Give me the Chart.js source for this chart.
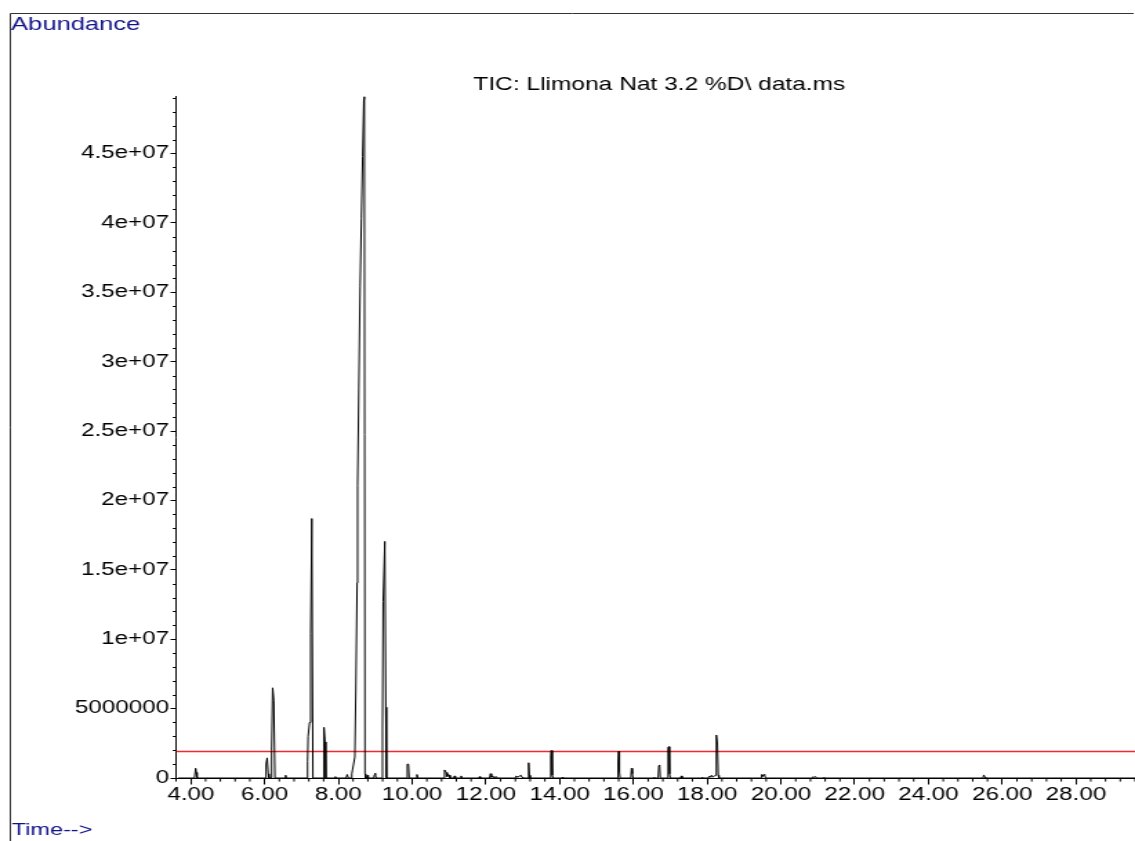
<!DOCTYPE html>
<html>
<head>
<meta charset="utf-8">
<title>TIC: Llimona Nat 3.2 %D\ data.ms</title>
<script src="https://cdn.jsdelivr.net/npm/chart.js@4.4.1/dist/chart.umd.min.js"></script>
<style>
  html, body { margin: 0; padding: 0; background: #fff; overflow: hidden; }
</style>
</head>
<body>
<!-- drawn at 822 px wide and shown at 1135 px, like the stretched original printout -->
<canvas id="tic" width="822" height="841" style="display:block;width:1135px;height:841px"></canvas>
<script>
// Retention time (min) and TIC abundance (x 1e6)
const times = [
  3.65,
  4.10, 4.13, 4.15, 4.17,
  6.02, 6.04, 6.07, 6.10, 6.12,
  6.17, 6.19, 6.22, 6.25, 6.28,
  6.55, 6.57, 6.59,
  7.14, 7.165, 7.18, 7.22, 7.25, 7.28, 7.31,
  7.59, 7.61, 7.64, 7.66,
  7.90, 7.92, 7.94,
  8.21, 8.24, 8.27,
  8.35, 8.365, 8.384, 8.447, 8.474, 8.509, 8.522, 8.555, 8.590, 8.625, 8.658, 8.690, 8.704, 8.722, 8.74,
  8.77, 8.79, 8.81,
  8.96, 8.98, 9.00, 9.02,
  9.18, 9.196, 9.214, 9.26, 9.286, 9.305,
  9.85, 9.87, 9.90, 9.92,
  10.11, 10.13, 10.16,
  10.86, 10.88, 10.92, 10.95, 10.98, 11.01, 11.03,
  11.13, 11.15, 11.17,
  11.31, 11.33, 11.35,
  11.81, 11.83, 11.85,
  12.10, 12.125, 12.15, 12.19, 12.21,
  12.24, 12.26, 12.29, 12.31,
  12.80, 12.82, 12.86, 12.95, 12.98, 13.00,
  13.14, 13.16, 13.18, 13.20,
  13.74, 13.76, 13.775, 13.80, 13.82,
  14.05, 14.07, 14.09,
  15.57, 15.585, 15.60, 15.62, 15.64,
  15.93, 15.95, 15.97, 15.99,
  16.55, 16.57, 16.59,
  16.67, 16.69, 16.71, 16.73,
  16.92, 16.94, 16.96, 16.98, 17.00,
  17.28, 17.30, 17.32,
  17.85, 17.87, 17.89,
  18.03, 18.05, 18.08, 18.12, 18.15,
  18.22, 18.24, 18.255, 18.275, 18.30, 18.32,
  19.46, 19.48, 19.50, 19.53, 19.56, 19.58,
  20.85, 20.87, 20.90, 20.94, 20.96,
  21.15, 21.17, 21.19,
  25.48, 25.50, 25.53, 25.55,
  29.60
];
const abundanceMillions = [
  0,
  0, 0.70, 0.40, 0,
  0, 1.0, 1.45, 0.3, 0,
  0, 2.0, 6.5, 5.6, 0,
  0, 0.2, 0,
  0, 1.2, 3.0, 4.0, 10.4, 18.7, 0,
  0, 3.65, 2.6, 0,
  0, 0.1, 0,
  0, 0.25, 0,
  0, 0.3, 0.58, 1.51, 6.34, 14.05, 21.1, 28.1, 35.4, 40.3, 44.8, 48.9, 53.0, 0.3, 0,
  0, 0.2, 0,
  0, 0.25, 0.35, 0,
  0, 3.6, 12.7, 17.05, 5.1, 0,
  0, 1.0, 1.0, 0,
  0, 0.25, 0,
  0, 0.58, 0.4, 0.1, 0.27, 0.2, 0,
  0, 0.15, 0,
  0, 0.15, 0,
  0, 0.1, 0,
  0, 0.31, 0.05, 0.15, 0,
  0, 0.1, 0.08, 0,
  0, 0.15, 0.05, 0.2, 0.05, 0,
  0, 1.1, 0.2, 0,
  0, 1.6, 1.98, 0.2, 0,
  0, 0.05, 0,
  0, 1.15, 1.92, 0.45, 0,
  0, 0.7, 0.3, 0,
  0, 0.05, 0,
  0, 0.9, 0.94, 0,
  0, 2.2, 2.26, 0.3, 0,
  0, 0.15, 0,
  0, 0.05, 0,
  0, 0.12, 0.05, 0.2, 0.05,
  0.2, 2.0, 3.1, 2.6, 0.2, 0,
  0, 0.25, 0.1, 0.25, 0.2, 0,
  0, 0.1, 0.05, 0.1, 0,
  0, 0.05, 0,
  0, 0.22, 0.05, 0,
  0
];

// Red threshold line
const thresholdTimes = [3.6, 29.6];
const thresholdValues = [1.91e6, 1.91e6];

// Axis ticks
const xTickValues = [4, 6, 8, 10, 12, 14, 16, 18, 20, 22, 24, 26, 28];
const xTickLabels = ['4.00', '6.00', '8.00', '10.00', '12.00', '14.00', '16.00',
  '18.00', '20.00', '22.00', '24.00', '26.00', '28.00'];
const yTickValues = [0, 5e6, 1e7, 1.5e7, 2e7, 2.5e7, 3e7, 3.5e7, 4e7, 4.5e7];
const yTickLabels = ['0', '5000000', '1e+07', '1.5e+07', '2e+07', '2.5e+07',
  '3e+07', '3.5e+07', '4e+07', '4.5e+07'];
const xMinorStep = 0.4;
const yMinorStep = 1e6;

const FONT = "'Liberation Sans', Arial, sans-serif";
const BLUE = '#12128a';

// Frame, labels, title and minor ticks
const chromDecor = {
  id: 'chromDecor',
  afterDraw(chart) {
    const ctx = chart.ctx;
    const xs = chart.scales.x;
    const ys = chart.scales.y;
    const area = chart.chartArea;
    ctx.save();

    ctx.strokeStyle = '#000';
    ctx.lineWidth = 1;
    ctx.beginPath();
    const n0 = Math.ceil(xs.min / xMinorStep - 1e-6);
    const n1 = Math.floor(xs.max / xMinorStep + 1e-6);
    for (let n = n0; n <= n1; n++) {
      if (n % 5 === 0) continue;
      const px = xs.getPixelForValue(n * xMinorStep);
      ctx.moveTo(px, area.bottom);
      ctx.lineTo(px, area.bottom + 3.6);
    }
    const m1 = Math.floor(ys.max / yMinorStep + 1e-6);
    for (let m = 1; m <= m1; m++) {
      if (m % 5 === 0) continue;
      const py = Math.round(ys.getPixelForValue(m * yMinorStep)) + 0.5;
      ctx.moveTo(area.left - 2.4, py);
      ctx.lineTo(area.left, py);
    }
    ctx.stroke();

    // outer frame
    ctx.strokeStyle = '#333';
    ctx.beginPath();
    ctx.moveTo(7.5, chart.height);
    ctx.lineTo(7.5, 13.5);
    ctx.lineTo(821, 13.5);
    ctx.stroke();

    ctx.fillStyle = BLUE;
    ctx.textBaseline = 'alphabetic';
    ctx.textAlign = 'left';
    ctx.font = '18.5px ' + FONT;
    ctx.fillText('Abundance', 8, 29.5);
    ctx.font = '17px ' + FONT;
    ctx.fillText('Time-->', 8.5, 834.5);

    ctx.fillStyle = '#000';
    ctx.textAlign = 'center';
    ctx.font = '17.75px ' + FONT;
    ctx.fillText('TIC: Llimona Nat 3.2 %D\\ data.ms', 477.5, 89.5);
    ctx.restore();
  }
};

new Chart(document.getElementById('tic'), {
  type: 'line',
  data: {
    datasets: [{
      label: 'TIC',
      data: times.map((t, i) => ({ x: t, y: abundanceMillions[i] * 1e6 })),
      borderColor: '#000',
      borderWidth: 1,
      borderJoinStyle: 'bevel',
      pointRadius: 0,
      tension: 0
    }, {
      label: 'threshold',
      data: thresholdTimes.map((t, i) => ({ x: t, y: thresholdValues[i] })),
      borderColor: '#f02a30',
      borderWidth: 1.5,
      pointRadius: 0
    }]
  },
  options: {
    responsive: false,
    devicePixelRatio: 1,
    animation: false,
    events: [],
    layout: { padding: { top: 96.7, right: 0, bottom: 0, left: 0 } },
    plugins: {
      legend: { display: false },
      tooltip: { enabled: false },
      title: { display: false }
    },
    scales: {
      x: {
        type: 'linear',
        min: 3.6,
        max: 29.6,
        afterBuildTicks: scale => { scale.ticks = xTickValues.map(v => ({ value: v })); },
        afterFit: scale => {
          scale.height = 63;
          scale.paddingLeft = 0; scale.paddingRight = 0;
        },
        grid: { drawOnChartArea: false, drawTicks: true, tickLength: 6.5, color: '#000' },
        border: { display: true, color: '#000', width: 1 },
        ticks: {
          autoSkip: false,
          maxRotation: 0,
          padding: 0,
          color: '#000',
          font: { family: FONT, size: 17.5 },
          callback: (v, i) => xTickLabels[i]
        }
      },
      y: {
        type: 'linear',
        min: 0,
        max: 4.91e7,
        afterBuildTicks: scale => { scale.ticks = yTickValues.map(v => ({ value: v })); },
        afterFit: scale => {
          scale.width = 127.5;
          scale.paddingTop = 0; scale.paddingBottom = 0;
        },
        grid: { drawOnChartArea: false, drawTicks: true, tickLength: 4, color: '#000' },
        border: { display: true, color: '#000', width: 1 },
        ticks: {
          padding: 1,
          color: '#000',
          font: { family: FONT, size: 17.5 },
          callback: (v, i) => yTickLabels[i]
        }
      }
    }
  },
  plugins: [chromDecor]
});
</script>
</body>
</html>
